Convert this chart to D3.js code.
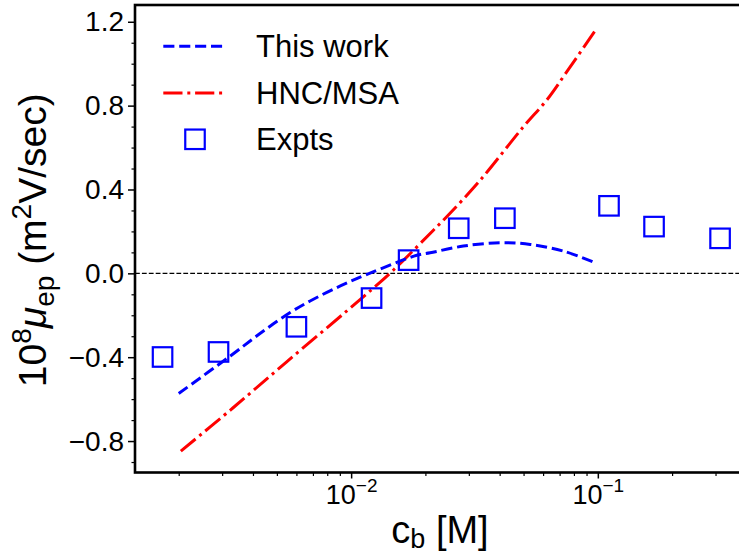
<!DOCTYPE html>
<html>
<head>
<meta charset="utf-8">
<script src="https://cdn.jsdelivr.net/npm/d3@7"></script>
<style>
  html, body { margin: 0; padding: 0; background: #fff; }
  svg { display: block; font-family: "Liberation Sans", Arial, sans-serif; }
</style>
</head>
<body>
<svg id="chart" width="739" height="554"></svg>
<script>
// ---------------- data ----------------
const expX = [0.00172, 0.0029, 0.006, 0.0121, 0.0171, 0.0273, 0.042, 0.111, 0.169, 0.313];
const expY = [-0.399, -0.375, -0.255, -0.118, 0.063, 0.215, 0.263, 0.322, 0.223, 0.167];

const thisWorkX = [0.002, 0.00324, 0.00441, 0.00566, 0.00682, 0.00875, 0.0116, 0.01845, 0.0209, 0.0285, 0.0402, 0.0532, 0.0726, 0.096];
const thisWorkY = [-0.573, -0.394, -0.275, -0.187, -0.132, -0.068, -0.005, 0.086, 0.098, 0.13, 0.146, 0.138, 0.106, 0.054];

const hncX = [0.00204, 0.00324, 0.00548, 0.0112, 0.01485, 0.0216, 0.0244, 0.0334, 0.0499, 0.0621, 0.0749, 0.099];
const hncY = [-0.848, -0.652, -0.422, -0.112, 0.016, 0.207, 0.27, 0.445, 0.699, 0.827, 0.962, 1.169];

const xDomain = [0.00133, 0.395];
const yDomain = [-0.95, 1.28];
const xMajorTicks = [0.01, 0.1];
const xMajorLabels = [["10", "\u22122"], ["10", "\u22121"]];
const yMajorTicks = [-0.8, -0.4, 0.0, 0.4, 0.8, 1.2];
const yMajorLabels = ["\u22120.8", "\u22120.4", "0.0", "0.4", "0.8", "1.2"];
const yMinorTicks = [-0.9, -0.7, -0.6, -0.5, -0.3, -0.2, -0.1, 0.1, 0.2, 0.3, 0.5, 0.6, 0.7, 0.9, 1.0, 1.1];
const legendLabels = ["This work", "HNC/MSA", "Expts"];

// ---------------- layout ----------------
const L = 135, R = 745, T = 5, B = 472.5;
const BLUE = "#0000ff", RED = "#ff0000";

const svg = d3.select("#chart");
const x = d3.scaleLog().domain(xDomain).range([L, R]);
const y = d3.scaleLinear().domain(yDomain).range([B, T]);

// zero line
svg.append("line")
  .attr("x1", L).attr("x2", R)
  .attr("y1", y(0)).attr("y2", y(0))
  .attr("stroke", "#000").attr("stroke-width", 1.3)
  .attr("stroke-dasharray", "4.8,2.1");

const line = d3.line().x(d => x(d[0])).y(d => y(d[1])).curve(d3.curveCatmullRom.alpha(0.5));

// HNC/MSA
svg.append("path")
  .datum(d3.zip(hncX, hncY))
  .attr("d", line)
  .attr("fill", "none").attr("stroke", RED).attr("stroke-width", 3)
  .attr("stroke-dasharray", "19.2,4.8,3,4.8");

// This work
svg.append("path")
  .datum(d3.zip(thisWorkX, thisWorkY))
  .attr("d", line)
  .attr("fill", "none").attr("stroke", BLUE).attr("stroke-width", 3)
  .attr("stroke-dasharray", "11.1,4.8");

// Expts squares
const S = 19.5;
svg.append("g").selectAll("rect")
  .data(d3.zip(expX, expY))
  .join("rect")
  .attr("x", d => x(d[0]) - S / 2)
  .attr("y", d => y(d[1]) - S / 2)
  .attr("width", S).attr("height", S)
  .attr("fill", "none").attr("stroke", BLUE).attr("stroke-width", 2.2);

// ---------------- axes ----------------
const allLogTicks = x.ticks();
const xMinor = allLogTicks.filter(v => !xMajorTicks.some(m => Math.abs(m - v) / m < 1e-9));

const gx = svg.append("g").attr("transform", `translate(0,${B})`);
gx.call(d3.axisBottom(x).tickValues(xMinor).tickSize(3.5).tickFormat("").tickSizeOuter(0));
gx.select(".domain").remove();
gx.selectAll("line").attr("stroke", "#000").attr("stroke-width", 1.2);

const gx2 = svg.append("g").attr("transform", `translate(0,${B})`);
gx2.call(d3.axisBottom(x).tickValues(xMajorTicks).tickSize(6).tickPadding(10).tickFormat("").tickSizeOuter(0));
gx2.select(".domain").remove();
gx2.selectAll("line").attr("stroke", "#000").attr("stroke-width", 1.5);
gx2.selectAll(".tick text").each(function(d, i) {
  const t = d3.select(this)
    .attr("font-size", 27).attr("fill", "#000")
    .attr("font-family", "Liberation Sans, Arial, sans-serif")
    .attr("y", 0).attr("dy", null)
    .attr("transform", "translate(0,31)");
  const lab = xMajorLabels[i];
  t.append("tspan").text(lab[0]);
  t.append("tspan").attr("font-size", 19).attr("dy", -12).text(lab[1]);
});

const gy = svg.append("g").attr("transform", `translate(${L},0)`);
gy.call(d3.axisLeft(y).tickValues(yMinorTicks).tickSize(3.5).tickFormat("").tickSizeOuter(0));
gy.select(".domain").remove();
gy.selectAll("line").attr("stroke", "#000").attr("stroke-width", 1.2);

const gy2 = svg.append("g").attr("transform", `translate(${L},0)`);
gy2.call(d3.axisLeft(y).tickValues(yMajorTicks).tickSize(7).tickPadding(4)
  .tickFormat((d, i) => yMajorLabels[i]).tickSizeOuter(0));
gy2.select(".domain").remove();
gy2.selectAll("line").attr("stroke", "#000").attr("stroke-width", 1.5);
gy2.selectAll("text").attr("font-size", 28).attr("fill", "#000")
  .attr("font-family", "Liberation Sans, Arial, sans-serif");

// frame
svg.append("rect")
  .attr("x", L).attr("y", T).attr("width", R - L).attr("height", B - T)
  .attr("fill", "none").attr("stroke", "#000").attr("stroke-width", 2.6);

// ---------------- axis labels ----------------
const xl = svg.append("text")
  .attr("x", (L + R) / 2).attr("y", 543)
  .attr("text-anchor", "middle").attr("font-size", 38).attr("fill", "#000");
xl.append("tspan").text("c");
xl.append("tspan").attr("font-size", 27).attr("dy", 5).text("b");
xl.append("tspan").attr("dy", -5).text(" [M]");

const yl = svg.append("text")
  .attr("transform", `translate(46,${(T + B) / 2 + 1.5}) rotate(-90)`)
  .attr("text-anchor", "middle").attr("font-size", 39).attr("fill", "#000");
yl.append("tspan").text("10");
yl.append("tspan").attr("font-size", 28).attr("dy", -15).text("8");
yl.append("tspan").attr("font-style", "italic").attr("dy", 15).text("\u03bc");
yl.append("tspan").attr("font-size", 28).attr("dy", 8).text("ep");
yl.append("tspan").attr("dy", -8).text(" (m");
yl.append("tspan").attr("font-size", 28).attr("dy", -15).text("2");
yl.append("tspan").attr("dy", 15).text("V/sec)");

// ---------------- legend ----------------
const lgX1 = 163.3, lgX2 = 226.7, lgTextX = 256;
const lgY = [46.3, 93, 139.3];
const lg = svg.append("g");
lg.append("line").attr("x1", lgX1).attr("x2", lgX2).attr("y1", lgY[0]).attr("y2", lgY[0])
  .attr("stroke", BLUE).attr("stroke-width", 3).attr("stroke-dasharray", "11.1,4.8");
lg.append("line").attr("x1", lgX1).attr("x2", lgX2).attr("y1", lgY[1]).attr("y2", lgY[1])
  .attr("stroke", RED).attr("stroke-width", 3).attr("stroke-dasharray", "19.2,4.8,3,4.8");
lg.append("rect").attr("x", (lgX1 + lgX2) / 2 - S / 2).attr("y", lgY[2] - S / 2)
  .attr("width", S).attr("height", S)
  .attr("fill", "none").attr("stroke", BLUE).attr("stroke-width", 2.2);
lg.selectAll("text.lg").data(legendLabels).join("text").attr("class", "lg")
  .attr("x", lgTextX).attr("y", (d, i) => lgY[i] + 11)
  .attr("font-size", 31).attr("fill", "#000")
  .text(d => d);
</script>
</body>
</html>
